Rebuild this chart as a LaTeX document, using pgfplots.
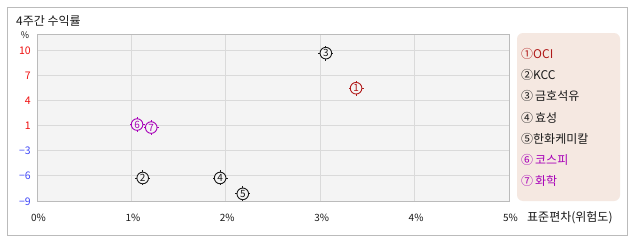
\documentclass[border=0pt]{standalone}
\usepackage{fontspec}
\setmainfont{Noto Sans CJK KR}
\usepackage{pgfplots}
\pgfplotsset{compat=1.18}

\definecolor{ocired}{HTML}{B01818}
\definecolor{kospi}{HTML}{A800B8}
\definecolor{ink}{HTML}{1A1A1A}
\definecolor{negblue}{HTML}{4048F8}
\definecolor{posred}{HTML}{F01010}
\definecolor{panel}{HTML}{F4F4F4}
\definecolor{gridc}{HTML}{DADADA}
\definecolor{framec}{HTML}{BBBBBB}
\definecolor{legfill}{HTML}{F5E8E1}

% ring marker with four short ticks
\pgfdeclareplotmark{ringtick}{%
  \pgfpathcircle{\pgfpointorigin}{5.8pt}%
  \pgfusepathqfillstroke
  \pgfpathmoveto{\pgfpoint{0pt}{5.8pt}}\pgfpathlineto{\pgfpoint{0pt}{7.5pt}}%
  \pgfpathmoveto{\pgfpoint{0pt}{-5.8pt}}\pgfpathlineto{\pgfpoint{0pt}{-7.5pt}}%
  \pgfpathmoveto{\pgfpoint{5.8pt}{0pt}}\pgfpathlineto{\pgfpoint{7.5pt}{0pt}}%
  \pgfpathmoveto{\pgfpoint{-5.8pt}{0pt}}\pgfpathlineto{\pgfpoint{-7.5pt}{0pt}}%
  \pgfusepathqstroke
}

\pgfplotsset{
  ringplot/.style={
    only marks, mark=ringtick, draw=#1,
    mark options={fill=panel, line width=0.9pt},
    nodes near coords, point meta=explicit symbolic,
    nodes near coords align={anchor=center},
    every node near coord/.append style={anchor=center, text=#1, inner sep=0pt,
      font=\fontsize{10}{10}\selectfont},
  },
}

\begin{document}
\begin{tikzpicture}
\path[use as bounding box] (0,0) rectangle (638pt,242pt);
\draw[framec, fill=white] (7pt,7pt) rectangle (627pt,235pt);
\node[anchor=west, text=ink, font=\fontsize{12}{12}\selectfont, inner sep=0pt] at (16pt,221pt) {4주간 수익률};
\node[text=ink, font=\fontsize{9}{9}\selectfont, inner sep=0pt] at (25pt,207pt) {\%};

\begin{axis}[
  at={(37pt,41pt)}, anchor=south west,
  scale only axis, width=472pt, height=167pt,
  xmin=0, xmax=5, ymin=-9, ymax=12.03,
  axis background/.style={fill=panel},
  axis line style={draw=framec, line width=0.8pt},
  grid=major, grid style={draw=gridc, line width=0.8pt},
  major tick length=0pt,
  xtick={0,1,2,3,4,5},
  xticklabels={0\%,1\%,2\%,3\%,4\%,5\%},
  ytick={-9,-5.8333,-2.6667,0.5,3.6667,6.8333,10},
  yticklabels={\textcolor{negblue}{−9},\textcolor{negblue}{−6},\textcolor{negblue}{−3},
    \textcolor{posred}{1},\textcolor{posred}{4},\textcolor{posred}{7},\textcolor{posred}{10}},
  xticklabel style={anchor=base, yshift=-20pt, xshift=1.5pt, inner sep=0pt,
    text=ink, font=\fontsize{10}{10}\selectfont},
  yticklabel style={anchor=base east, xshift=-6pt, yshift=-4pt, inner sep=0pt,
    font=\fontsize{10.5}{10.5}\selectfont},
  clip=false,
]
% 1 OCI
\addplot[ringplot=ocired] table[meta=lab] {
x y lab
3.38 5.20 1
};
% 2 KCC, 3 금호석유, 4 효성, 5 한화케미칼
\addplot[ringplot=ink] table[meta=lab] {
x y lab
1.12 -6.10 2
3.06 9.62 3
1.94 -6.10 4
2.18 -8.10 5
};
% 6 코스피, 7 화학
\addplot[ringplot=kospi] table[meta=lab] {
x y lab
1.06 0.63 6
1.21 0.25 7
};
\end{axis}

\node[anchor=base west, text=ink, font=\fontsize{12}{12}\selectfont, inner sep=0pt] at (527pt,21pt) {표준편차(위험도)};

% legend panel
\fill[legfill, rounded corners=6pt] (517pt,41pt) rectangle (620pt,209pt);
\begin{scope}[every node/.style={anchor=west, inner sep=0pt, font=\fontsize{12}{12}\selectfont}]
\node[text=ocired] at (521pt,188pt) {①OCI};
\node[text=ink] at (521pt,166.8pt) {②KCC};
\node[text=ink] at (521pt,145.6pt) {③\hspace{2pt}금호석유};
\node[text=ink] at (521pt,124.4pt) {④\hspace{2pt}효성};
\node[text=ink] at (521pt,103.2pt) {⑤한화케미칼};
\node[text=kospi] at (521pt,82pt) {⑥\hspace{2pt}코스피};
\node[text=kospi] at (521pt,60.8pt) {⑦\hspace{2pt}화학};
\end{scope}
\end{tikzpicture}
\end{document}
